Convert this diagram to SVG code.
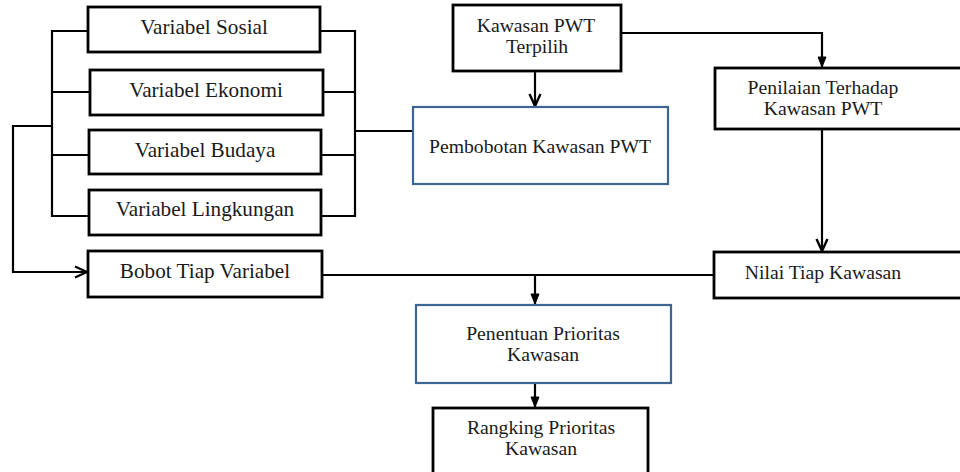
<svg xmlns="http://www.w3.org/2000/svg" width="960" height="472" viewBox="0 0 960 472">
  <style>
    .box { fill: #ffffff; stroke: #000000; stroke-width: 2.8; }
    .blue { fill: #ffffff; stroke: #3f6594; stroke-width: 2.2; }
    .lbl { font-family: "Liberation Serif", "Times New Roman", serif; font-size: 19.7px; fill: #1a1a1a; text-anchor: middle; }
    .big { font-size: 21.2px; }
    .wire { fill: none; stroke: #000000; stroke-width: 2.2; }
  </style>
  <defs>
    <marker id="open" viewBox="0 0 14 14" refX="13" refY="7" markerWidth="14" markerHeight="14" markerUnits="userSpaceOnUse" orient="auto">
      <path d="M1,1.5 L13,7 L1,12.5" fill="none" stroke="#000000" stroke-width="2.4"/>
    </marker>
    <marker id="solid" viewBox="0 0 12 12" refX="11" refY="6" markerWidth="12" markerHeight="12" markerUnits="userSpaceOnUse" orient="auto">
      <path d="M1,2 L11,6 L1,10 Z" fill="#000000" stroke="#000000" stroke-width="1"/>
    </marker>
  </defs>

  <!-- connectors -->
  <g id="connectors">
    <!-- left bus joining the four variables -->
    <path class="wire" d="M88,31 H52 V216 H89 M52,92 H90 M52,155 H89"/>
    <!-- right bus joining the four variables -->
    <path class="wire" d="M320,31 H355 V216 H321 M323,92 H355 M321,155 H355"/>
    <!-- right bus to weighting -->
    <path class="wire" d="M355,131 H413"/>
    <!-- loop back to weight per variable -->
    <path class="wire" d="M52,126 H13 V272 H87" marker-end="url(#open)"/>
    <!-- selected area to weighting -->
    <path class="wire" d="M535,71 V106" marker-end="url(#open)"/>
    <!-- selected area to assessment -->
    <path class="wire" d="M621,33 H822 V67" marker-end="url(#solid)"/>
    <!-- assessment to value per area -->
    <path class="wire" d="M822,129 V251" marker-end="url(#open)"/>
    <!-- weights and values into priority -->
    <path class="wire" d="M322,275 H714"/>
    <path class="wire" d="M535,275 V304" marker-end="url(#solid)"/>
    <!-- priority to ranking -->
    <path class="wire" d="M535,383 V407" marker-end="url(#solid)"/>
  </g>

  <g id="var-sosial">
    <rect class="box" x="88" y="7" width="232" height="45"/>
    <text class="lbl big" x="204" y="34">Variabel Sosial</text>
  </g>
  <g id="var-ekonomi">
    <rect class="box" x="90" y="70" width="233" height="45"/>
    <text class="lbl big" x="206" y="97">Variabel Ekonomi</text>
  </g>
  <g id="var-budaya">
    <rect class="box" x="89" y="130" width="232" height="44"/>
    <text class="lbl big" x="205" y="157">Variabel Budaya</text>
  </g>
  <g id="var-lingkungan">
    <rect class="box" x="89" y="190" width="232" height="45"/>
    <text class="lbl big" x="205" y="216">Variabel Lingkungan</text>
  </g>
  <g id="bobot">
    <rect class="box" x="88" y="251" width="234" height="46"/>
    <text class="lbl big" x="205" y="278">Bobot Tiap Variabel</text>
  </g>
  <g id="kawasan-terpilih">
    <rect class="box" x="453" y="5" width="168" height="66"/>
    <text class="lbl" x="536" y="32">Kawasan PWT</text>
    <text class="lbl" x="537" y="53">Terpilih</text>
  </g>
  <g id="pembobotan">
    <rect class="blue" x="413" y="107" width="255" height="77"/>
    <text class="lbl" x="540" y="153">Pembobotan Kawasan PWT</text>
  </g>
  <g id="penilaian">
    <rect class="box" x="715" y="68" width="260" height="61"/>
    <text class="lbl" x="823" y="94">Penilaian Terhadap</text>
    <text class="lbl" x="823" y="115">Kawasan PWT</text>
  </g>
  <g id="nilai">
    <rect class="box" x="714" y="252" width="260" height="46"/>
    <text class="lbl" x="823" y="279">Nilai Tiap Kawasan</text>
  </g>
  <g id="penentuan">
    <rect class="blue" x="416" y="305" width="255" height="78"/>
    <text class="lbl" x="543" y="340">Penentuan Prioritas</text>
    <text class="lbl" x="543" y="361">Kawasan</text>
  </g>
  <g id="rangking">
    <rect class="box" x="433" y="408" width="215" height="80"/>
    <text class="lbl" x="541" y="434">Rangking Prioritas</text>
    <text class="lbl" x="541" y="455">Kawasan</text>
  </g>
</svg>
